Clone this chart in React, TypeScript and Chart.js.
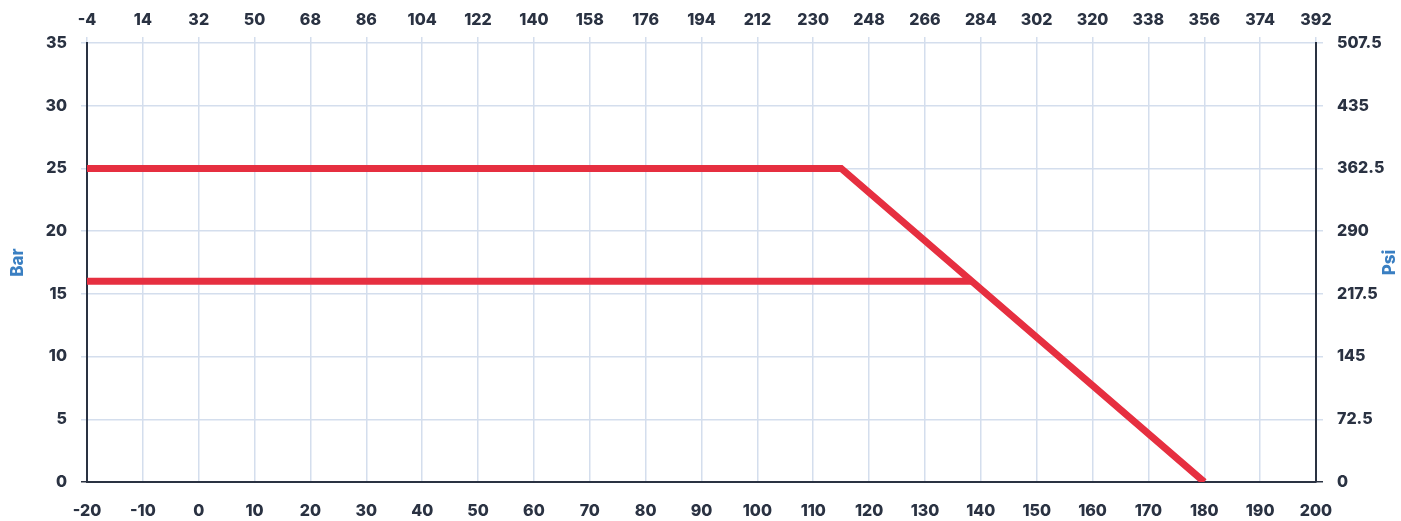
import React, { useEffect, useRef } from "react";
import { Chart, registerables } from "chart.js";

Chart.register(...registerables);

const celsiusTicks = [-20, -10, 0, 10, 20, 30, 40, 50, 60, 70, 80, 90, 100, 110, 120, 130, 140, 150, 160, 170, 180, 190, 200];
const fahrenheitTicks = [-4, 14, 32, 50, 68, 86, 104, 122, 140, 158, 176, 194, 212, 230, 248, 266, 284, 302, 320, 338, 356, 374, 392];
const barTicks = [0, 5, 10, 15, 20, 25, 30, 35];
const psiTicks = [0, 72.5, 145, 217.5, 290, 362.5, 435, 507.5];

const highTemps = [-20, 115, 180];
const highPressures = [25, 25, 0];
const lowTemps = [-20, 138.4];
const lowPressures = [16, 16];

const RED = "#e62f40";
const GRID = "#d4deed";
const AXIS = "#2a3242";
const TITLE_BLUE = "#3a7fc2";
const FONT = "Inter, 'Noto Sans', sans-serif";

const titlePlugin = {
  id: "sideTitles",
  afterDraw(chart: any) {
    const { ctx, chartArea } = chart;
    const cy = (chartArea.top + chartArea.bottom) / 2;
    ctx.save();
    ctx.fillStyle = TITLE_BLUE;
    ctx.font = `800 17px ${FONT}`;
    ctx.textAlign = "center";
    ctx.textBaseline = "middle";
    const draw = (text: string, x: number) => {
      ctx.save();
      ctx.translate(x, cy);
      ctx.rotate(-Math.PI / 2);
      ctx.fillText(text, 0, 0);
      ctx.restore();
    };
    draw("Bar", 18);
    draw("Psi", 1390);
    ctx.restore();
  },
};

export default function App() {
  const ref = useRef<HTMLCanvasElement | null>(null);
  useEffect(() => {
    document.body.style.margin = "0";
    const canvas = ref.current!;
    const tickFont = { family: FONT, size: 16, weight: 800 as any };
    const chart = new Chart(canvas, {
      type: "line",
      data: {
        datasets: [
          {
            data: highTemps.map((x, i) => ({ x, y: highPressures[i] })),
            borderColor: RED,
            borderWidth: 7,
            pointRadius: 0,
            fill: false,
            tension: 0,
            xAxisID: "x",
            yAxisID: "y",
          },
          {
            data: lowTemps.map((x, i) => ({ x, y: lowPressures[i] })),
            borderColor: RED,
            borderWidth: 7,
            pointRadius: 0,
            fill: false,
            tension: 0,
            xAxisID: "x",
            yAxisID: "y",
          },
        ],
      },
      plugins: [titlePlugin],
      options: {
        animation: false,
        responsive: false,
        maintainAspectRatio: false,
        layout: { padding: 0 },
        plugins: { legend: { display: false }, tooltip: { enabled: false } },
        scales: {
          x: {
            type: "linear",
            position: "bottom",
            min: -20,
            max: 200,
            afterBuildTicks: (s: any) => { s.ticks = celsiusTicks.map((v) => ({ value: v })); },
            afterFit: (s: any) => { s.height = 39; },
            grid: { color: GRID, drawTicks: false, lineWidth: 1.5 },
            border: { display: true, color: AXIS, width: 2 },
            ticks: { color: AXIS, font: tickFont, padding: 20, maxRotation: 0, autoSkip: false },
          },
          x2: {
            type: "linear",
            position: "top",
            min: -4,
            max: 392,
            afterBuildTicks: (s: any) => { s.ticks = fahrenheitTicks.map((v) => ({ value: v })); },
            afterFit: (s: any) => { s.height = 43; },
            grid: { color: GRID, drawOnChartArea: false, drawTicks: true, tickLength: 6, lineWidth: 1.5 },
            border: { display: false },
            ticks: { color: AXIS, font: tickFont, padding: 7, maxRotation: 0, autoSkip: false },
          },
          y: {
            type: "linear",
            position: "left",
            min: 0,
            max: 35,
            afterBuildTicks: (s: any) => { s.ticks = barTicks.map((v) => ({ value: v })); },
            afterFit: (s: any) => { s.width = 87; },
            grid: {
              color: (c: any) => (c.tick && c.tick.value === 0 ? AXIS : GRID),
              drawTicks: true,
              tickLength: 6,
              lineWidth: 1.5,
            },
            border: { display: true, color: AXIS, width: 2 },
            ticks: { color: AXIS, font: tickFont, padding: 14, autoSkip: false },
          },
          y2: {
            type: "linear",
            position: "right",
            min: 0,
            max: 507.5,
            afterBuildTicks: (s: any) => { s.ticks = psiTicks.map((v) => ({ value: v })); },
            afterFit: (s: any) => { s.width = 85; },
            grid: {
              color: (c: any) => (c.tick && c.tick.value === 0 ? AXIS : GRID),
              drawOnChartArea: false,
              drawTicks: true,
              tickLength: 7,
              lineWidth: 1.5,
            },
            border: { display: true, color: AXIS, width: 2 },
            ticks: { color: AXIS, font: tickFont, padding: 14, autoSkip: false },
          },
        },
      },
    } as any);
    return () => chart.destroy();
  }, []);
  return (
    <div style={{ width: 1401, height: 521, position: "relative" }}>
      <canvas ref={ref} width={1401} height={521} style={{ display: "block", background: "#fff" }} />
    </div>
  );
}
